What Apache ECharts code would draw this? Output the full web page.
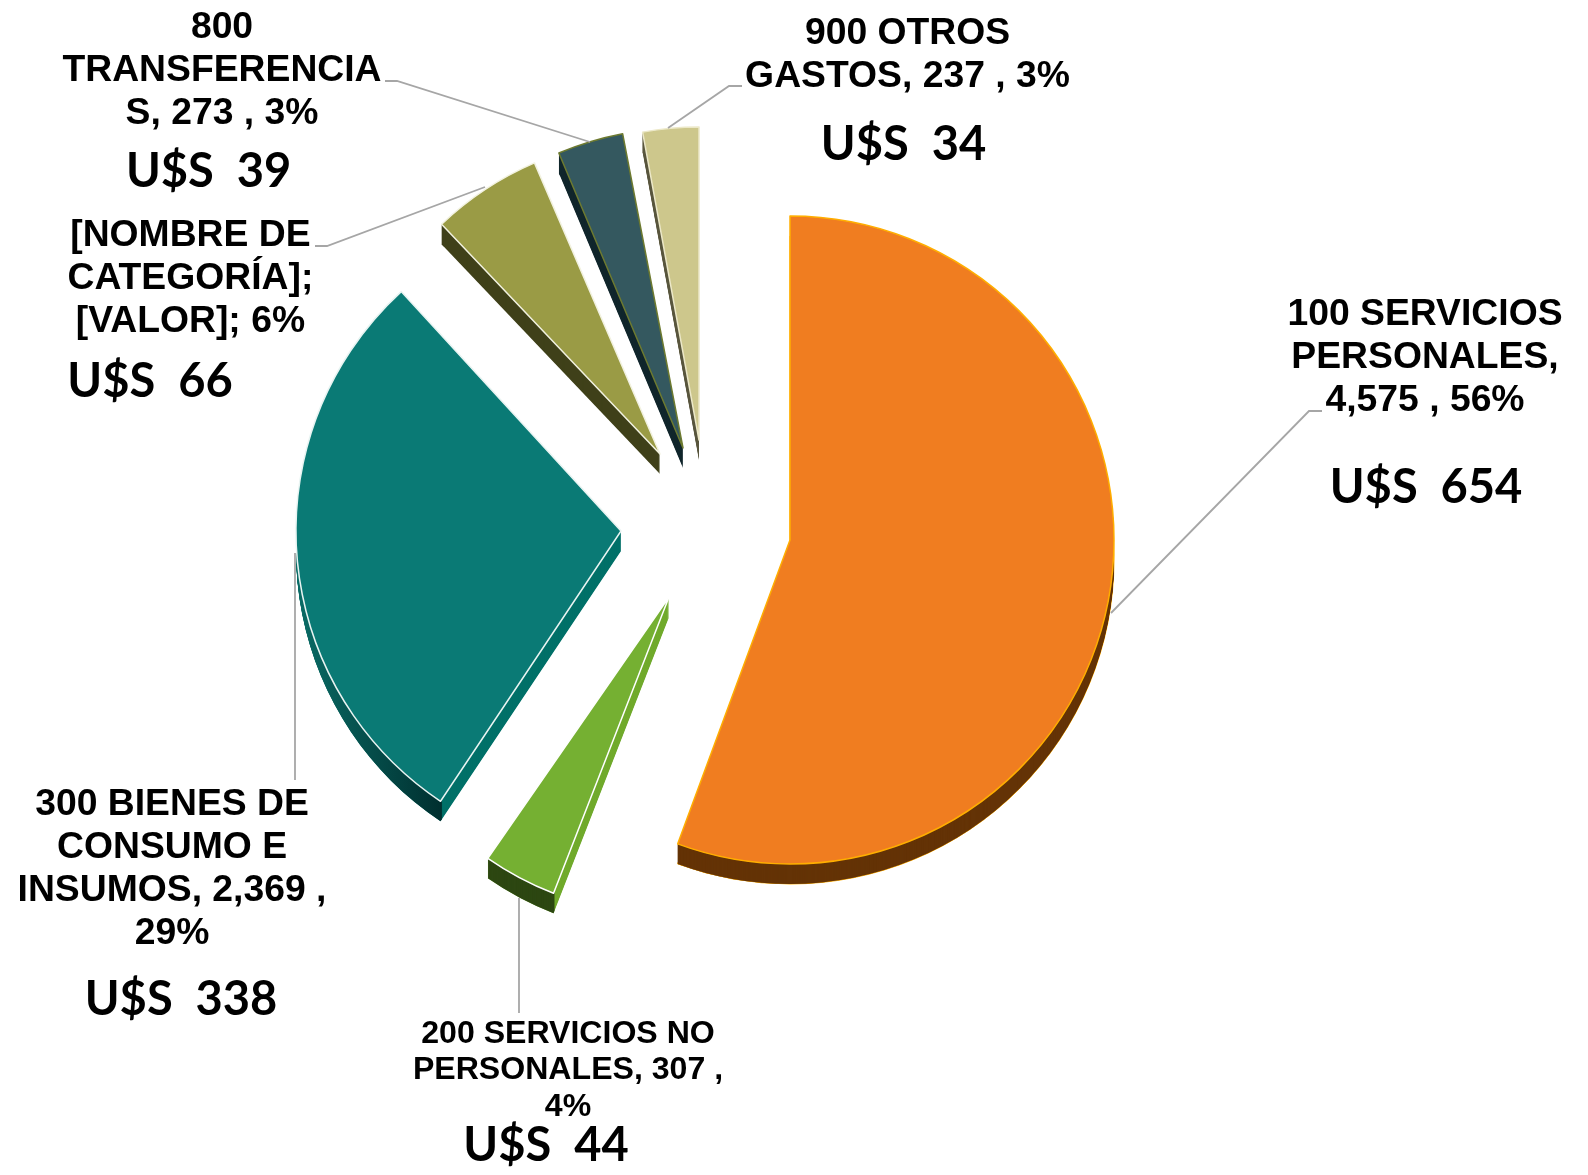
<!DOCTYPE html>
<html>
<head>
<meta charset="utf-8">
<style>
  html, body { margin: 0; padding: 0; background: #fff; }
  #chart { width: 1588px; height: 1175px; }
</style>
<script src="https://cdn.jsdelivr.net/npm/echarts@6/dist/echarts.min.js"></script>
</head>
<body>
<div id="chart"></div>
<script>
// data (olive value estimated, its label only says [VALOR])
const categories = [
  '100 SERVICIOS\nPERSONALES,\n4,575 , 56%',
  '200 SERVICIOS NO\nPERSONALES, 307 ,\n4%',
  '300 BIENES DE\nCONSUMO E\nINSUMOS, 2,369 ,\n29%',
  '[NOMBRE DE\nCATEGORÍA];\n[VALOR]; 6%',
  '800\nTRANSFERENCIA\nS, 273 , 3%',
  '900 OTROS\nGASTOS, 237 , 3%'
];
const values = [4575, 307, 2369, 462, 273, 237];
const usdLabels = ['U$S  654', 'U$S  44', 'U$S  338', 'U$S  66', 'U$S  39', 'U$S  34'];

// one exploded slice each
const centers = [[790, 540], [669, 597], [621, 531], [660, 454], [683, 448], [699, 440]];
const radii = [324, 318, 325, 317, 320, 313];
const startAngles = [90, 89, 90, 91, 90.5, 90];
const faceColors = ['#f07d20', '#75b032', '#0a7a75', '#9a9b45', '#34585f', '#cdc78c'];
const faceBorders = ['#ffae00', '#ffffff', '#e8f4f2', '#f2f2e0', '#6d7a30', '#ece8c8'];
const cutWalls = ['#643306', '#70aa2c', '#007068', '#3f4019', '#11262c', '#5a573f'];
const arcWalls = [
  '#643306',
  '#2d4712',
  { type: 'linear', x: 0, y: 0, x2: 1, y2: 0,
    colorStops: [{ offset: 0, color: '#0a6c66' }, { offset: 1, color: '#002f2f' }] },
  '#3f4019',
  '#11262c',
  '#5a573f'
];
const depth = 20;

const labelPos = [[1425, 357.5], [568, 1070.5], [172, 869.5], [190.4, 279], [222, 71], [907.5, 55]];
const usdPos = [[1426, 488], [546, 1145.5], [181, 999.6], [150, 382], [208.6, 172], [903.5, 145]];
const labelSize = [37.3, 32.1, 37.3, 37.3, 37.3, 37.3];
const labelLine = [43, 36.5, 43, 43, 43, 43];
const leaders = [
  [[1111, 613], [1309, 411], [1322, 411]],
  [[519, 898], [519, 1013]],
  [[295, 553], [295, 780]],
  [[315, 246], [327, 246], [485, 187]],
  [[385, 81], [397, 81], [590, 142]],
  [[668, 128], [729, 86], [742, 86]]
];

function sliceSeries(i, center, radius, style) {
  return {
    type: 'pie',
    silent: true,
    animation: false,
    startAngle: startAngles[i],
    clockwise: true,
    center: center,
    radius: radius,
    label: { show: false },
    labelLine: { show: false },
    emphasis: { disabled: true },
    data: values.map((v, j) => ({
      value: v,
      itemStyle: j === i ? style : { color: 'transparent', borderWidth: 0 }
    }))
  };
}

const series = [];
values.forEach((v, i) => {
  const c = centers[i], r = radii[i];
  // side walls: stack of the slice going down, then dark rim rings over the arc part
  for (let d = depth; d >= 1; d--) {
    const st = { color: cutWalls[i], borderWidth: 0 };
    if (d === depth && i === 0) { st.borderColor = faceBorders[i]; st.borderWidth = 1; }
    series.push(sliceSeries(i, [c[0], c[1] + d], [0, r], st));
  }
  for (let d = depth; d >= 1; d--) {
    series.push(sliceSeries(i, [c[0], c[1] + d], [r - 3, r], { color: arcWalls[i], borderWidth: 0 }));
  }
  series.push(sliceSeries(i, c, [0, r], {
    color: faceColors[i], borderColor: faceBorders[i], borderWidth: 1.5
  }));
});

const graphics = [];
leaders.forEach(pts => {
  graphics.push({
    type: 'polyline', silent: true, z: 50,
    shape: { points: pts },
    style: { stroke: '#a6a6a6', lineWidth: 1.8, fill: null }
  });
});
categories.forEach((name, i) => {
  graphics.push({
    type: 'text', silent: true, z: 60, x: labelPos[i][0], y: labelPos[i][1],
    style: {
      text: name, fill: '#000', align: 'center', verticalAlign: 'middle',
      font: 'bold ' + labelSize[i] + 'px "Liberation Sans", Arial, sans-serif',
      lineHeight: labelLine[i]
    }
  });
  graphics.push({
    type: 'text', silent: true, z: 60, x: usdPos[i][0], y: usdPos[i][1],
    style: {
      text: usdLabels[i], fill: '#000', align: 'center', verticalAlign: 'middle',
      font: 'bold 47px Lato, sans-serif'
    }
  });
});

const chart = echarts.init(document.getElementById('chart'));
chart.setOption({
  backgroundColor: '#ffffff',
  animation: false,
  tooltip: { show: false },
  legend: { show: false },
  series: series,
  graphic: graphics
});
</script>
</body>
</html>
